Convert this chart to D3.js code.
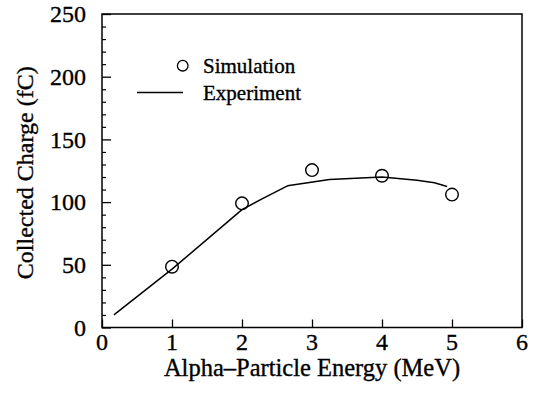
<!DOCTYPE html>
<html>
<head>
<meta charset="utf-8">
<script src="https://cdn.jsdelivr.net/npm/d3@7"></script>
<style>
  html, body { margin: 0; padding: 0; background: #fff; }
  svg { display: block; }
  text { font-family: "Liberation Serif", "Times New Roman", serif; fill: #000; stroke: #000; stroke-width: 0.35px; }
</style>
</head>
<body>
<svg id="chart" width="538" height="396"></svg>
<script>
// Data
const simEnergy = [1, 2, 3, 4, 5];
const simCharge = [48.5, 99, 125.5, 121, 106];
const expEnergy = [0.17, 1, 2, 2.3, 2.65, 3.25, 4, 4.5, 4.75, 4.93];
const expCharge = [10, 46.5, 94, 103, 113, 118, 120, 117.5, 115.5, 112.5];
const xTicks = [0, 1, 2, 3, 4, 5, 6];
const yTicks = [0, 50, 100, 150, 200, 250];
const yMinorTicks = d3.range(0, 251, 10);
const xTitle = "Alpha\u2013Particle Energy (MeV)";
const yTitle = "Collected Charge (fC)";
const legendLabels = ["Simulation", "Experiment"];

const svg = d3.select("#chart");
const L = 102, R = 522, T = 14, B = 327.5;
const x = d3.scaleLinear().domain([0, 6]).range([L, R]);
const y = d3.scaleLinear().domain([0, 250]).range([B, T]);

// frame
svg.append("rect").attr("x", L).attr("y", T).attr("width", R - L).attr("height", B - T)
  .attr("fill", "none").attr("stroke", "#000").attr("stroke-width", 1.5);

// x axis (inward ticks)
const xAxis = d3.axisTop(x).tickValues(xTicks).tickSize(8).tickFormat("");
const gx = svg.append("g").attr("transform", `translate(0,${B})`).call(xAxis);
gx.select(".domain").remove();
gx.selectAll("line").attr("stroke", "#000").attr("stroke-width", 1.3);
svg.append("g").selectAll("text").data(xTicks).join("text")
  .attr("x", d => x(d)).attr("y", B + 22.5)
  .attr("text-anchor", "middle").attr("font-size", 24)
  .text(d => d);

// y axis minor ticks
const gyMinor = svg.append("g").attr("transform", `translate(${L},0)`)
  .call(d3.axisRight(y).tickValues(yMinorTicks.filter(v => v % 50 !== 0)).tickSize(4).tickFormat(""));
gyMinor.select(".domain").remove();
gyMinor.selectAll("line").attr("stroke", "#000").attr("stroke-width", 1.2);
// y axis major ticks
const gy = svg.append("g").attr("transform", `translate(${L},0)`)
  .call(d3.axisRight(y).tickValues(yTicks).tickSize(9).tickFormat(""));
gy.select(".domain").remove();
gy.selectAll("line").attr("stroke", "#000").attr("stroke-width", 1.3);
svg.append("g").selectAll("text").data(yTicks).join("text")
  .attr("x", 86).attr("y", d => y(d))
  .attr("dy", "0.34em")
  .attr("text-anchor", "end").attr("font-size", 24)
  .text(d => d);

// titles
svg.append("text").attr("x", (L + R) / 2).attr("y", 376)
  .attr("text-anchor", "middle").attr("font-size", 24.5).text(xTitle);
svg.append("text").attr("transform", `translate(32.5,${(T + B) / 2 + 2}) rotate(-90)`)
  .attr("text-anchor", "middle").attr("font-size", 24).text(yTitle);

// experiment line
const line = d3.line().x(d => x(d[0])).y(d => y(d[1]));
svg.append("path").datum(d3.zip(expEnergy, expCharge))
  .attr("d", line).attr("fill", "none").attr("stroke", "#000").attr("stroke-width", 1.5)
  .attr("stroke-linejoin", "round");

// simulation circles
svg.append("g").selectAll("circle").data(d3.zip(simEnergy, simCharge)).join("circle")
  .attr("cx", d => x(d[0])).attr("cy", d => y(d[1])).attr("r", 6.3)
  .attr("fill", "none").attr("stroke", "#000").attr("stroke-width", 1.4);

// legend
const lg = svg.append("g");
lg.append("circle").attr("cx", 182.7).attr("cy", 65.7).attr("r", 5.3)
  .attr("fill", "none").attr("stroke", "#000").attr("stroke-width", 1.3);
lg.append("line").attr("x1", 137).attr("x2", 183).attr("y1", 92.5).attr("y2", 92.5)
  .attr("stroke", "#000").attr("stroke-width", 1.4);
lg.selectAll("text").data(legendLabels).join("text")
  .attr("x", 203).attr("y", (d, i) => i === 0 ? 72.5 : 99.5)
  .attr("font-size", 21).text(d => d);
</script>
</body>
</html>
